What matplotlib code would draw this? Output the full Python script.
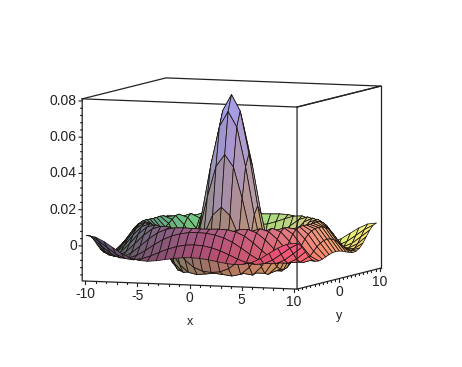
import matplotlib

matplotlib.use("Agg")
import matplotlib.pyplot as plt
import numpy as np
from mpl_toolkits.mplot3d import proj3d

plt.rcParams["font.family"] = ["Liberation Sans", "DejaVu Sans"]

# grid from the centre out to the edge, mirrored below
half_grid = [0.0, 0.833, 1.667, 2.5, 3.333, 4.167, 5.0, 5.833, 6.667, 7.5, 8.333, 9.167, 10.0]

# height of one quadrant of the surface, in units of 1e-4
quadrant = [
    [800, 711, 478, 192, -46, -163, -153, -60, 45, 100, 85, 22, -44],
    [711, 627, 411, 147, -67, -168, -148, -52, 50, 101, 83, 19, -46],
    [478, 411, 240, 36, -119, -174, -129, -28, 65, 103, 75, 9, -52],
    [192, 147, 36, -87, -163, -163, -91, 8, 83, 101, 61, -6, -60],
    [-46, -67, -119, -163, -170, -122, -36, 50, 99, 91, 39, -26, -68],
    [-163, -168, -174, -163, -122, -52, 27, 86, 102, 70, 9, -48, -73],
    [-153, -148, -129, -91, -36, 27, 80, 103, 85, 35, -24, -65, -70],
    [-60, -52, -28, 8, 50, 86, 103, 89, 48, -6, -53, -73, -58],
    [45, 50, 65, 83, 99, 102, 85, 48, 0, -46, -71, -67, -35],
    [100, 101, 103, 101, 91, 70, 35, -6, -46, -70, -70, -45, -4],
    [85, 83, 75, 61, 39, 9, -24, -53, -71, -70, -48, -11, 27],
    [22, 19, 9, -6, -26, -48, -65, -73, -67, -45, -11, 24, 50],
    [-44, -46, -52, -60, -68, -73, -70, -58, -35, -4, 27, 50, 57],
]

x_major = [-10, -5, 0, 5, 10]
y_major = [0, 10]
z_major = [0, 0.02, 0.04, 0.06, 0.08]
z_labels = ["0", "0.02", "0.04", "0.06", "0.08"]
x_minor = list(range(-10, 11))
y_minor = list(range(-10, 11))
z_minor = [-0.016, -0.012, -0.008, -0.004, 0.004, 0.008, 0.012, 0.016, 0.024, 0.028, 0.032,
           0.036, 0.044, 0.048, 0.052, 0.056, 0.064, 0.068, 0.072, 0.076]

XMIN, XMAX = -10.3, 10.3
YMIN, YMAX = -10.3, 10.3
ZMIN, ZMAX = -0.0193, 0.0812
LINE = "#222222"


def label_at(ax, xpos, ypos, zpos, text, size=10, ha="center"):
    # text3d keeps its raw coordinates, so project by hand and place it in 2d
    px, py, _ = proj3d.proj_transform(xpos, ypos, zpos, ax.get_proj())
    ax.text2D(px, py, text, transform=ax.transData, ha=ha, va="center", fontsize=size, color=LINE)


half = np.array(half_grid)
grid = np.concatenate([-half[:0:-1], half])
q = np.array(quadrant) * 1e-4
top = np.concatenate([q[:0:-1], q], axis=0)
z = np.concatenate([top[:, :0:-1], top], axis=1)
x, y = np.meshgrid(grid, grid)

# colour each cell by its position: x -> red, y -> green, z -> blue
red = 0.30 + 0.68 * (x - x.min()) / (x.max() - x.min())
green = 0.30 + 0.66 * (y - y.min()) / (y.max() - y.min())
blue = 0.36 + 0.60 * (z - z.min()) / (z.max() - z.min())
rgb = np.dstack([red, green, blue])
cells = (rgb[:-1, :-1] + rgb[1:, :-1] + rgb[:-1, 1:] + rgb[1:, 1:]) / 4

fig = plt.figure(figsize=(4.62, 3.67), dpi=100)
ax = fig.add_axes([45.1 / 462, -2.9 / 367, 363 / 462, 363 / 367], projection="3d")
ax.set_proj_type("ortho")
ax.computed_zorder = False
ax.set_box_aspect((230.7, 230.7, 183))
ax.view_init(elev=5.6, azim=-68.7)
ax.set_xlim(XMIN, XMAX, view_margin=0)
ax.set_ylim(YMIN, YMAX, view_margin=0)
ax.set_zlim(ZMIN, ZMAX, view_margin=0)
ax.set_xticks([])
ax.set_yticks([])
ax.set_zticks([])
ax.set_axis_off()

ax.plot([XMIN, XMAX], [YMIN, YMIN], [ZMAX, ZMAX], color=LINE, lw=0.9, zorder=1)

ax.plot_surface(x, y, z, facecolors=cells, rstride=1, cstride=1, shade=False,
                edgecolor="#1c1410", linewidth=0.55, zorder=2)

# frame of the box
ax.plot([XMAX, XMAX, XMIN, XMIN], [YMIN, YMAX, YMAX, YMIN], [ZMAX, ZMAX, ZMAX, ZMAX],
        color=LINE, lw=0.9, zorder=3)
ax.plot([XMIN, XMIN, XMAX, XMAX, XMAX], [YMIN, YMIN, YMIN, YMIN, YMAX], [ZMAX, ZMIN, ZMIN, ZMAX, ZMAX],
        color=LINE, lw=0.9, zorder=3)
ax.plot([XMAX, XMAX], [YMIN, YMAX], [ZMIN, ZMIN], color=LINE, lw=0.9, zorder=3)
ax.plot([XMAX, XMAX], [YMAX, YMAX], [ZMIN, ZMAX], color=LINE, lw=0.9, zorder=3)

# ticks
for t in x_minor:
    size = 0.0016 if t in x_major else 0.0009
    ax.plot([t, t], [YMIN, YMIN], [ZMIN, ZMIN - size], color=LINE, lw=0.8, zorder=3)
for t in y_minor:
    size = 0.0016 if t in y_major else 0.0009
    ax.plot([XMAX, XMAX], [t, t], [ZMIN, ZMIN - size], color=LINE, lw=0.8, zorder=3)
for t in z_major:
    ax.plot([XMIN, XMIN - 0.3], [YMIN, YMIN], [t, t], color=LINE, lw=0.8, zorder=3)
for t in z_minor:
    ax.plot([XMIN, XMIN - 0.15], [YMIN, YMIN], [t, t], color=LINE, lw=0.8, zorder=3)

# labels
for t in x_major:
    label_at(ax, t, YMIN, ZMIN - 0.0072, str(t))
for t in y_major:
    label_at(ax, XMAX, t, ZMIN - 0.0075, str(t))
for t, label in zip(z_major, z_labels):
    label_at(ax, XMIN - 0.5, YMIN, t, label, ha="right")
label_at(ax, 0, YMIN, ZMIN - 0.0205, "x", size=9)
label_at(ax, XMAX, 0, ZMIN - 0.0205, "y", size=9)

fig.savefig("out.png", dpi=100)
